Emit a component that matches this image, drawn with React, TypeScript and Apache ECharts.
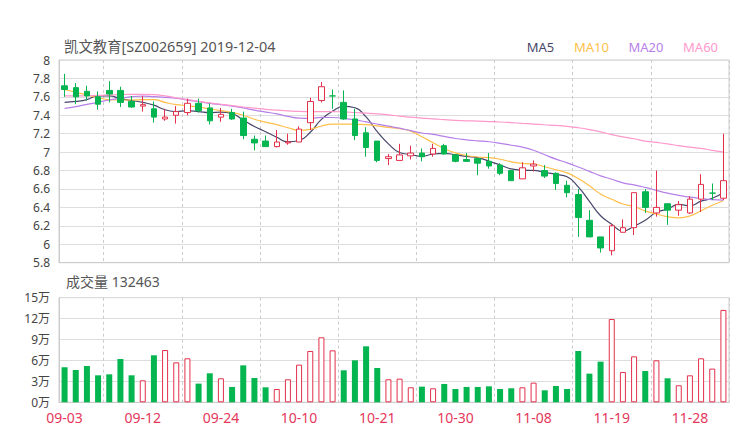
import React, { useEffect, useRef } from 'react';
import * as echarts from 'echarts';

const FONT = '"Noto Sans", "Noto Sans CJK SC", sans-serif';

const dates = [
  '09-03','09-04','09-05','09-06','09-09','09-10','09-11','09-12','09-16','09-17',
  '09-18','09-19','09-20','09-23','09-24','09-25','09-26','09-27','09-30','10-08',
  '10-09','10-10','10-11','10-14','10-15','10-16','10-17','10-18','10-21','10-22',
  '10-23','10-24','10-25','10-28','10-29','10-30','10-31','11-01','11-04','11-05',
  '11-06','11-07','11-08','11-11','11-12','11-13','11-14','11-15','11-18','11-19',
  '11-20','11-21','11-22','11-25','11-26','11-27','11-28','11-29','12-02','12-03',
];

const opens = [
  7.72, 7.70, 7.66, 7.60, 7.67, 7.67, 7.55, 7.50, 7.47, 7.36,
  7.40, 7.43, 7.53, 7.48, 7.38, 7.43, 7.37, 7.14, 7.12, 7.06,
  7.10, 7.11, 7.32, 7.56, 7.61, 7.54, 7.36, 7.21, 7.12, 6.93,
  6.91, 6.96, 6.99, 6.98, 7.07, 6.97, 6.92, 6.93, 6.90, 6.86,
  6.80, 6.71, 6.85, 6.80, 6.77, 6.64, 6.54, 6.26, 6.08, 5.93,
  6.13, 6.18, 6.57, 6.34, 6.44, 6.37, 6.34, 6.49, 6.555, 6.50,
];
const closes = [
  7.68, 7.60, 7.61, 7.52, 7.63, 7.54, 7.49, 7.515, 7.38, 7.38,
  7.44, 7.53, 7.45, 7.34, 7.41, 7.36, 7.18, 7.10, 7.06, 7.11,
  7.11, 7.25, 7.55, 7.71, 7.61, 7.36, 7.18, 7.05, 6.91, 6.95,
  6.97, 6.99, 6.95, 7.04, 6.98, 6.90, 6.90, 6.88, 6.85, 6.77,
  6.69, 6.83, 6.87, 6.74, 6.66, 6.56, 6.29, 6.08, 5.96, 6.20,
  6.18, 6.56, 6.40, 6.40, 6.37, 6.43, 6.49, 6.65, 6.555, 6.69,
];
const highs = [
  7.85, 7.75, 7.72, 7.66, 7.77, 7.71, 7.61, 7.61, 7.55, 7.47,
  7.50, 7.58, 7.58, 7.53, 7.48, 7.47, 7.44, 7.18, 7.18, 7.24,
  7.20, 7.28, 7.59, 7.76, 7.68, 7.67, 7.47, 7.27, 7.12, 6.98,
  7.09, 7.07, 7.04, 7.09, 7.09, 6.98, 6.99, 6.93, 6.99, 6.88,
  6.80, 6.89, 6.91, 6.86, 6.78, 6.69, 6.60, 6.37, 6.08, 6.22,
  6.27, 6.56, 6.60, 6.80, 6.44, 6.47, 6.52, 6.76, 6.66, 7.20,
];
const lows = [
  7.60, 7.52, 7.56, 7.46, 7.54, 7.49, 7.48, 7.44, 7.32, 7.34,
  7.31, 7.40, 7.43, 7.30, 7.33, 7.35, 7.14, 7.02, 7.06, 7.05,
  7.08, 7.11, 7.24, 7.54, 7.47, 7.35, 7.13, 6.95, 6.89, 6.86,
  6.91, 6.92, 6.90, 6.95, 6.97, 6.89, 6.90, 6.75, 6.82, 6.75,
  6.69, 6.71, 6.79, 6.72, 6.59, 6.51, 6.08, 6.08, 5.91, 5.88,
  6.13, 6.10, 6.34, 6.30, 6.21, 6.31, 6.33, 6.35, 6.48, 6.48,
];

const volumes = [
  50200, 46300, 52100, 38700, 40100, 62100, 38700, 31500, 67400, 75000,
  57300, 63100, 26800, 41600, 34400, 22000, 53000, 34900, 21500, 19100,
  33000, 54000, 73600, 93200, 74500, 45900, 60200, 80300, 49200, 33000,
  33900, 21500, 22450, 20100, 26300, 19100, 22000, 22000, 22900, 19100,
  20100, 21500, 28200, 17200, 23400, 19100, 73600, 41100, 58300, 119400,
  43500, 65900, 44900, 60200, 34400, 24400, 38700, 63100, 48300, 132463,
];

const ma5 = [
  7.54, 7.55, 7.57, 7.61, 7.61, 7.58, 7.56, 7.54, 7.51, 7.46,
  7.44, 7.45, 7.44, 7.428, 7.434, 7.418, 7.348, 7.278, 7.222, 7.162,
  7.112, 7.126, 7.216, 7.356, 7.446, 7.496, 7.482, 7.382, 7.222, 7.09,
  6.996, 6.974, 6.954, 6.98, 6.986, 6.972, 6.954, 6.94, 6.902, 6.86,
  6.818, 6.804, 6.802, 6.78, 6.758, 6.732, 6.624, 6.466, 6.31, 6.218,
  6.142, 6.196, 6.26, 6.348, 6.382, 6.432, 6.418, 6.468, 6.499, 6.563,
];
const ma10 = [
  7.68, 7.65, 7.62, 7.59, 7.57, 7.566, 7.566, 7.569, 7.57, 7.54,
  7.515, 7.505, 7.49, 7.47, 7.45, 7.43, 7.40, 7.357, 7.325, 7.298,
  7.265, 7.237, 7.247, 7.284, 7.304, 7.304, 7.304, 7.299, 7.284, 7.268,
  7.254, 7.228, 7.168, 7.101, 7.038, 6.992, 6.964, 6.947, 6.941, 6.923,
  6.895, 6.879, 6.871, 6.841, 6.809, 6.775, 6.714, 6.634, 6.545, 6.488,
  6.437, 6.41, 6.363, 6.329, 6.30, 6.287, 6.307, 6.364, 6.424, 6.473,
];
const ma20 = [
  7.475, 7.494, 7.519, 7.541, 7.566, 7.584, 7.602, 7.609, 7.602, 7.595,
  7.585, 7.565, 7.548, 7.53, 7.515, 7.50, 7.48, 7.455, 7.435, 7.416,
  7.388, 7.37, 7.367, 7.377, 7.376, 7.367, 7.351, 7.328, 7.305, 7.283,
  7.26, 7.233, 7.208, 7.193, 7.171, 7.148, 7.134, 7.123, 7.113, 7.096,
  7.075, 7.054, 7.02, 6.971, 6.924, 6.884, 6.839, 6.791, 6.743, 6.706,
  6.666, 6.645, 6.617, 6.585, 6.555, 6.531, 6.511, 6.499, 6.484, 6.48,
];
const ma60 = [
  7.61, 7.61, 7.612, 7.615, 7.62, 7.625, 7.627, 7.627, 7.624, 7.61,
  7.59, 7.572, 7.55, 7.535, 7.52, 7.505, 7.49, 7.478, 7.465, 7.455,
  7.448, 7.442, 7.44, 7.44, 7.44, 7.437, 7.43, 7.423, 7.415, 7.405,
  7.39, 7.38, 7.37, 7.36, 7.352, 7.345, 7.34, 7.337, 7.332, 7.327,
  7.32, 7.312, 7.305, 7.297, 7.29, 7.28, 7.265, 7.245, 7.22, 7.19,
  7.165, 7.145, 7.12, 7.105, 7.09, 7.07, 7.055, 7.04, 7.02, 7.0,
];

const maNames = ['MA5', 'MA10', 'MA20', 'MA60'];
const maColors = ['#48476b', '#ffbf4a', '#b680e8', '#ff99cc'];
const maData = [ma5, ma10, ma20, ma60];

const UP = '#e3304b';
const DOWN = '#05b550';
const TITLE = '凯文教育[SZ002659] 2019-12-04';
const VOL_TITLE = '成交量 ' + volumes[volumes.length - 1];

const splitEvery = (i: number) => i % 7 === 4;

export default function App() {
  const ref = useRef<HTMLDivElement>(null);
  useEffect(() => {
    if (!ref.current) return;
    const chart = echarts.init(ref.current, undefined, { renderer: 'svg' });
    const candleData = dates.map((_, i) => [opens[i], closes[i], lows[i], highs[i]]);
    const volData = volumes.map((v, i) =>
      closes[i] >= opens[i]
        ? { value: v, itemStyle: { color: '#fff', borderColor: UP, borderWidth: 1 } }
        : { value: v, itemStyle: { color: DOWN } }
    );
    const xBase = {
      type: 'category',
      data: dates,
      boundaryGap: true,
      axisLine: { show: true, lineStyle: { color: '#ccc' } },
      axisTick: { show: false },
      splitLine: { show: true, interval: splitEvery, lineStyle: { color: '#ccc', type: [3, 3], width: 1 } },
    };
    const option: any = {
      animation: false,
      textStyle: { fontFamily: FONT },
      legend: {
        right: 22,
        top: 40,
        padding: 0,
        itemWidth: 0,
        itemHeight: 14,
        itemGap: 9,
        selectedMode: false,
        textStyle: { fontSize: 13, fontFamily: FONT },
        data: maNames.map((n, i) => ({
          name: n,
          textStyle: { color: maColors[i] },
          itemStyle: { opacity: 0 },
          lineStyle: { opacity: 0 },
        })),
      },
      grid: [
        { left: 59, right: 11, top: 60, height: 202.7, show: true, borderColor: '#ccc', borderWidth: 1 },
        { left: 59, right: 11, top: 297.7, height: 104.6, show: true, borderColor: '#ccc', borderWidth: 1 },
      ],
      xAxis: [
        { ...xBase, gridIndex: 0, axisLabel: { show: false } },
        {
          ...xBase,
          gridIndex: 1,
          axisLabel: { show: true, interval: 6, color: '#e5375a', fontSize: 14, margin: 8, fontFamily: FONT },
        },
      ],
      yAxis: [
        {
          type: 'value',
          gridIndex: 0,
          min: 5.8,
          max: 8,
          interval: 0.2,
          axisLine: { show: true, lineStyle: { color: '#ccc' } },
          axisTick: { show: false },
          axisLabel: { color: '#444', fontSize: 12, margin: 9, fontFamily: FONT },
          splitLine: { show: true, lineStyle: { color: '#ddd', width: 1 } },
        },
        {
          type: 'value',
          gridIndex: 1,
          min: 0,
          max: 150000,
          interval: 30000,
          axisLine: { show: true, lineStyle: { color: '#ccc' } },
          axisTick: { show: false },
          axisLabel: {
            color: '#444',
            fontSize: 12,
            margin: 9,
            fontFamily: FONT,
            formatter: (v: number) => v / 10000 + '万',
          },
          splitLine: { show: true, lineStyle: { color: '#ddd', width: 1 } },
        },
      ],
      graphic: [
        { type: 'text', x: 64, y: 46.5, style: { text: TITLE, font: '14.4px ' + FONT, fill: '#555', verticalAlign: 'middle' } },
        { type: 'text', x: 66, y: 281.5, style: { text: VOL_TITLE, font: '14px ' + FONT, fill: '#555', verticalAlign: 'middle' } },
      ],
      series: [
        ...maNames.map((n, i) => ({
          name: n,
          type: 'line',
          xAxisIndex: 0,
          yAxisIndex: 0,
          data: maData[i],
          smooth: true,
          symbol: 'none',
          lineStyle: { color: maColors[i], width: 1.2 },
          itemStyle: { color: maColors[i] },
          z: 2,
        })),
        {
          name: 'K',
          type: 'candlestick',
          xAxisIndex: 0,
          yAxisIndex: 0,
          data: candleData,
          barWidth: 6,
          itemStyle: { color: '#fff', color0: DOWN, borderColor: UP, borderColor0: DOWN, borderWidth: 1 },
          z: 3,
        },
        {
          name: 'VOL',
          type: 'bar',
          xAxisIndex: 1,
          yAxisIndex: 1,
          data: volData,
          barWidth: 6,
        },
      ],
    };
    chart.setOption(option);
    return () => chart.dispose();
  }, []);
  return <div ref={ref} style={{ width: 740, height: 440, position: 'absolute', left: 0, top: 0 }} />;
}
